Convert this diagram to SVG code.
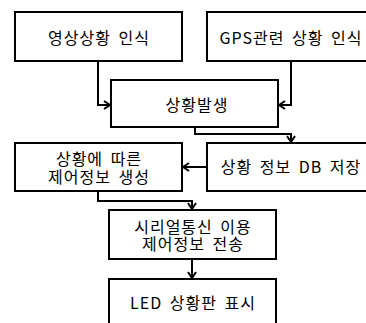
<svg xmlns="http://www.w3.org/2000/svg" width="366" height="323" viewBox="0 0 366 323">
<style>
.box{fill:#fff;stroke:#000;stroke-width:2}
.t{font-family:"Noto Sans CJK KR","Malgun Gothic",sans-serif;font-size:16px;fill:#000;text-anchor:middle;letter-spacing:1px;word-spacing:3px}
.c{fill:none;stroke:#000;stroke-width:2}
</style>
<defs>
<marker id="ah" markerUnits="userSpaceOnUse" markerWidth="12" markerHeight="12" refX="9" refY="6" orient="auto">
<path d="M3,2 L9,6 L3,10" fill="none" stroke="#000" stroke-width="2"/>
</marker>
</defs>
<rect width="366" height="323" fill="#fff"/>
<g id="connectors">
<path class="c" d="M98,61 V105 H110" marker-end="url(#ah)"/>
<path class="c" d="M291,61 V105 H279" marker-end="url(#ah)"/>
<path class="c" d="M195,127 V134 H291 V142" marker-end="url(#ah)"/>
<path class="c" d="M207,167 H183" marker-end="url(#ah)"/>
<path class="c" d="M98,191 V201 H192 V209" marker-end="url(#ah)"/>
<path class="c" d="M192,259 V278" marker-end="url(#ah)"/>
</g>
<g id="n1"><rect class="box" x="15" y="12" width="167" height="49"/><text class="t" x="99" y="44">영상상황 인식</text></g>
<g id="n2"><rect class="box" x="207" y="12" width="166" height="49"/><text class="t" x="291" y="44">GPS관련 상황 인식</text></g>
<g id="n3"><rect class="box" x="111" y="80" width="167" height="47"/><text class="t" x="197" y="111">상황발생</text></g>
<g id="n4"><rect class="box" x="207" y="143" width="166" height="48"/><text class="t" x="291" y="173">상황 정보 DB 저장</text></g>
<g id="n5"><rect class="box" x="15" y="143" width="167" height="48"/><text class="t" x="99" y="165">상황에 따른</text><text class="t" x="99" y="183">제어정보 생성</text></g>
<g id="n6"><rect class="box" x="109" y="210" width="167" height="49"/><text class="t" x="193" y="233">시리얼통신 이용</text><text class="t" x="193" y="250">제어정보 전송</text></g>
<g id="n7"><rect class="box" x="109" y="279" width="167" height="50"/><text class="t" x="193" y="309">LED 상황판 표시</text></g>
</svg>
